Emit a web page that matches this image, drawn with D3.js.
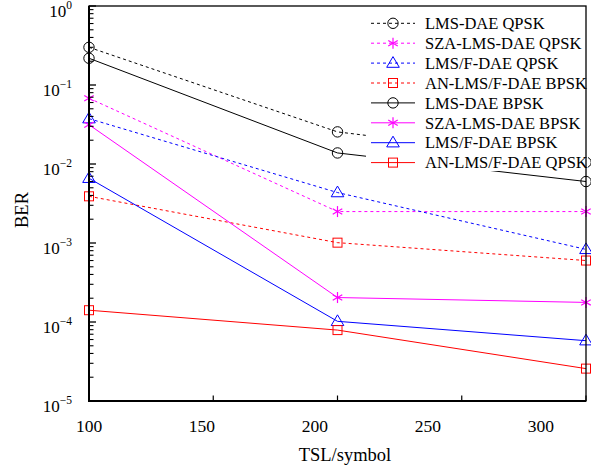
<!DOCTYPE html>
<html>
<head>
<meta charset="utf-8">
<script src="https://cdn.jsdelivr.net/npm/d3@7"></script>
<style>
  html, body { margin: 0; padding: 0; background: #fff; }
  svg { display: block; font-family: "Liberation Serif", "Times New Roman", serif; }
</style>
</head>
<body>
<svg id="chart" width="591" height="470"></svg>
<script>
// TSL lengths (symbols) at which BER was measured
const tslValues = [100, 210, 320];
const xTickLabels = [100, 150, 200, 250, 300];
const yDecades = [0, -1, -2, -3, -4, -5];

// BER per equaliser / modulation
const lmsDaeQpsk    = [0.30, 0.0255, 0.0105];
const szaLmsDaeQpsk = [0.068, 0.0025, 0.0025];
const lmsfDaeQpsk   = [0.0375, 0.00435, 0.00083];
const anLmsfDaeBpsk = [0.0039, 0.00101, 0.00060];
const lmsDaeBpsk    = [0.218, 0.0138, 0.0060];
const szaLmsDaeBpsk = [0.0314, 0.000204, 0.000177];
const lmsfDaeBpsk   = [0.0066, 0.000102, 0.000058];
const anLmsfDaeQpsk = [0.000141, 0.000079, 0.0000257];

const seriesNames = [
  "LMS-DAE QPSK", "SZA-LMS-DAE QPSK", "LMS/F-DAE QPSK", "AN-LMS/F-DAE BPSK",
  "LMS-DAE BPSK", "SZA-LMS-DAE BPSK", "LMS/F-DAE BPSK", "AN-LMS/F-DAE QPSK"
];
const seriesValues = [
  lmsDaeQpsk, szaLmsDaeQpsk, lmsfDaeQpsk, anLmsfDaeBpsk,
  lmsDaeBpsk, szaLmsDaeBpsk, lmsfDaeBpsk, anLmsfDaeQpsk
];
const seriesColors = ["#000000", "#ff00ff", "#0000ff", "#ff0000",
                      "#000000", "#ff00ff", "#0000ff", "#ff0000"];
const seriesMarkers = ["circle", "star", "triangle", "square",
                       "circle", "star", "triangle", "square"];
const seriesDashed = [true, true, true, true, false, false, false, false];

const svg = d3.select("#chart");
const plotLeft = 89, plotRight = 586, plotTop = 6, plotBottom = 401;

const x = d3.scaleLinear().domain([tslValues[0], tslValues[tslValues.length - 1]]).range([plotLeft, plotRight]);
const y = d3.scaleLog().domain([1e-5, 1]).range([plotBottom, plotTop]);

// marker glyphs centred on (0,0)
function drawMarker(g, type, color) {
  if (type === "circle") {
    g.append("circle").attr("r", 5.2).attr("fill", "none").attr("stroke", color).attr("stroke-width", 1);
  } else if (type === "triangle") {
    g.append("path").attr("d", "M0,-6.5L6.3,4.2L-6.3,4.2Z")
      .attr("fill", "none").attr("stroke", color).attr("stroke-width", 1);
  } else if (type === "square") {
    g.append("rect").attr("x", -4.5).attr("y", -4.5).attr("width", 9).attr("height", 9)
      .attr("fill", "none").attr("stroke", color).attr("stroke-width", 1);
  } else if (type === "star") {
    const r = 5.5;
    [90, 30, 150].forEach(a => {
      const rad = a * Math.PI / 180;
      g.append("line")
        .attr("x1", -r * Math.cos(rad)).attr("y1", -r * Math.sin(rad))
        .attr("x2", r * Math.cos(rad)).attr("y2", r * Math.sin(rad))
        .attr("stroke", color).attr("stroke-width", 1.2);
    });
  }
}

// series lines and markers
const line = d3.line().x(d => x(d[0])).y(d => y(d[1]));
seriesValues.forEach((vals, i) => {
  const pts = vals.map((v, j) => [tslValues[j], v]);
  svg.append("path")
    .datum(pts)
    .attr("d", line)
    .attr("fill", "none")
    .attr("stroke", seriesColors[i])
    .attr("stroke-width", 1)
    .attr("stroke-dasharray", seriesDashed[i] ? "3,3" : null);
  pts.forEach(p => {
    const g = svg.append("g").attr("transform", `translate(${x(p[0])},${y(p[1])})`);
    drawMarker(g, seriesMarkers[i], seriesColors[i]);
  });
});

// legend on an opaque white panel
const legend = svg.append("g");
legend.append("rect")
  .attr("x", 366).attr("y", plotTop + 1).attr("width", plotRight - 366 + 2).attr("height", 164)
  .attr("fill", "#fff");
seriesNames.forEach((name, i) => {
  const ly = 23.3 + i * 19.9;
  legend.append("line")
    .attr("x1", 371).attr("x2", 415).attr("y1", ly).attr("y2", ly)
    .attr("stroke", seriesColors[i]).attr("stroke-width", 1)
    .attr("stroke-dasharray", seriesDashed[i] ? "3,3" : null);
  const g = legend.append("g").attr("transform", `translate(393,${ly})`);
  drawMarker(g, seriesMarkers[i], seriesColors[i]);
  legend.append("text")
    .attr("x", 425).attr("y", ly).attr("dy", "0.35em")
    .attr("font-size", 16.5).attr("fill", "#000")
    .text(name);
});

// frame
svg.append("rect")
  .attr("x", plotLeft).attr("y", plotTop).attr("width", plotRight - plotLeft).attr("height", plotBottom - plotTop)
  .attr("fill", "none").attr("stroke", "#000").attr("stroke-width", 1.3);
svg.append("line").attr("x1", plotLeft).attr("x2", plotLeft).attr("y1", plotTop).attr("y2", plotBottom + 1)
  .attr("stroke", "#000").attr("stroke-width", 2);
svg.append("line").attr("x1", plotLeft - 1).attr("x2", plotRight).attr("y1", plotBottom).attr("y2", plotBottom)
  .attr("stroke", "#000").attr("stroke-width", 2);

// y axis: decade ticks plus minor ticks, pointing inward
const yAxis = svg.append("g");
yDecades.forEach(k => {
  yAxis.append("line")
    .attr("x1", plotLeft).attr("x2", plotLeft + 7).attr("y1", y(Math.pow(10, k))).attr("y2", y(Math.pow(10, k)))
    .attr("stroke", "#000").attr("stroke-width", 1.3);
  if (k > -5) {
    for (let m = 2; m <= 9; m++) {
      const v = m * Math.pow(10, k - 1);
      yAxis.append("line")
        .attr("x1", plotLeft).attr("x2", plotLeft + 4.5).attr("y1", y(v)).attr("y2", y(v))
        .attr("stroke", "#000").attr("stroke-width", 1.1);
    }
  }
  const t = yAxis.append("text")
    .attr("x", 72).attr("y", y(Math.pow(10, k)) + 11)
    .attr("text-anchor", "end").attr("font-size", 17).attr("fill", "#000");
  t.append("tspan").text("10");
  t.append("tspan").attr("dy", -8).attr("font-size", 11.5)
    .text(k === 0 ? "0" : "\u2212" + Math.abs(k));
});

// x axis: evenly spaced tick marks across the range, value labels below
const xAxis = svg.append("g");
const tickCount = 4;
d3.range(tickCount + 1).map(i => x.domain()[0] + i * (x.domain()[1] - x.domain()[0]) / tickCount)
  .forEach(v => {
    xAxis.append("line")
      .attr("x1", x(v)).attr("x2", x(v)).attr("y1", plotBottom).attr("y2", plotBottom - 5.5)
      .attr("stroke", "#000").attr("stroke-width", 1.2);
  });
xTickLabels.forEach(v => {
  xAxis.append("text")
    .attr("x", x(v)).attr("y", 432)
    .attr("text-anchor", "middle").attr("font-size", 17.5).attr("fill", "#000")
    .text(v);
});

// axis titles
svg.append("text")
  .attr("x", 345).attr("y", 461)
  .attr("text-anchor", "middle").attr("font-size", 18.5).attr("fill", "#000")
  .text("TSL/symbol");
svg.append("text")
  .attr("transform", "translate(28,210) rotate(-90)")
  .attr("text-anchor", "middle").attr("font-size", 18.5).attr("fill", "#000")
  .text("BER");
</script>
</body>
</html>
